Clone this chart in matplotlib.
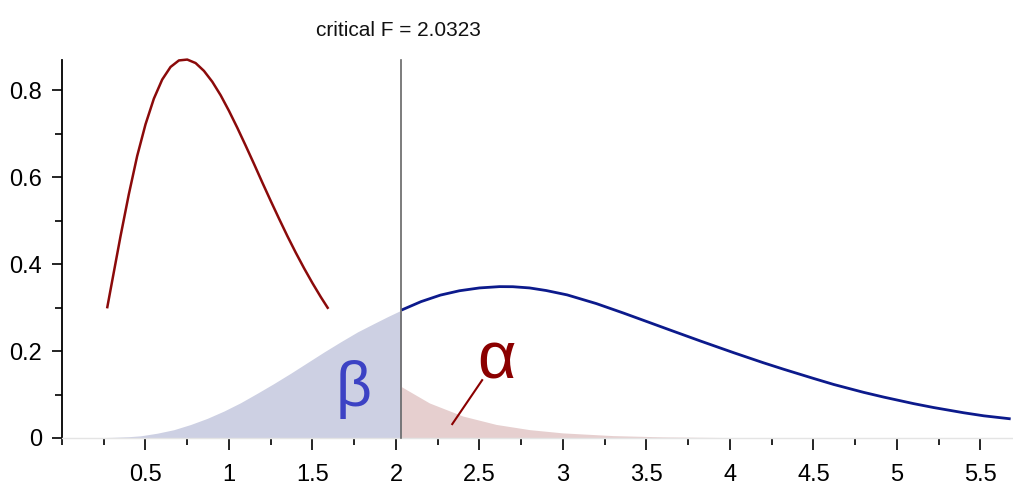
import matplotlib
matplotlib.use("Agg")
import matplotlib.pyplot as plt
from matplotlib.ticker import MultipleLocator, FixedLocator

# ---- data ----
critical_f = 2.0323
title_text = "critical F = 2.0323"

# visible part of the null (central F) density curve
red_x = [0.27, 0.30, 0.35, 0.40, 0.45, 0.50, 0.55, 0.60, 0.65, 0.70, 0.75, 0.80,
         0.85, 0.90, 0.95, 1.00, 1.05, 1.10, 1.15, 1.20, 1.25, 1.30, 1.35, 1.40,
         1.45, 1.50, 1.55, 1.595]
red_y = [0.298, 0.360, 0.463, 0.560, 0.648, 0.721, 0.780, 0.824, 0.853, 0.868, 0.870, 0.862,
         0.844, 0.819, 0.788, 0.752, 0.713, 0.672, 0.630, 0.587, 0.545, 0.504, 0.464, 0.426,
         0.390, 0.356, 0.324, 0.297]

# alternative (noncentral F) density curve beyond the critical value
blue_x = [2.0323, 2.15, 2.266, 2.38, 2.50, 2.62, 2.70, 2.80, 2.90, 3.025, 3.20, 3.364,
          3.50, 3.65, 3.823, 4.023, 4.20, 4.322, 4.50, 4.622, 4.80, 4.921, 5.10, 5.22,
          5.40, 5.52, 5.681]
blue_y = [0.294, 0.3135, 0.3285, 0.3385, 0.345, 0.348, 0.3478, 0.345, 0.339, 0.329, 0.309, 0.287,
          0.268, 0.247, 0.223, 0.196, 0.173, 0.158, 0.137, 0.123, 0.105, 0.094, 0.079, 0.070,
          0.058, 0.051, 0.044]

# beta region (alternative density below the critical value)
beta_x = [0.0, 0.10, 0.20, 0.30, 0.40, 0.47, 0.57, 0.669, 0.77, 0.869, 0.97, 1.069,
          1.17, 1.268, 1.37, 1.468, 1.57, 1.668, 1.77, 1.867, 1.95, 2.0323]
beta_y = [0.0, 0.0001, 0.0005, 0.0015, 0.003, 0.005, 0.011, 0.019, 0.031, 0.045, 0.062, 0.081,
          0.103, 0.125, 0.149, 0.173, 0.198, 0.221, 0.244, 0.263, 0.279, 0.294]

# alpha region (null density above the critical value)
alpha_x = [2.0323, 2.20, 2.40, 2.60, 2.80, 3.00, 3.30, 3.60, 4.00, 4.50, 5.00, 5.695]
alpha_y = [0.118, 0.0806, 0.0505, 0.0312, 0.0192, 0.0117, 0.0055, 0.0026, 0.00095, 0.00027,
           0.00007, 0.00001]

x_major = [0.5, 1, 1.5, 2, 2.5, 3, 3.5, 4, 4.5, 5, 5.5]
x_labels = ["0.5", "1", "1.5", "2", "2.5", "3", "3.5", "4", "4.5", "5", "5.5"]
y_major = [0, 0.2, 0.4, 0.6, 0.8]
y_labels = ["0", "0.2", "0.4", "0.6", "0.8"]

# ---- styling ----
plt.rcParams['font.family'] = ['Liberation Sans', 'DejaVu Sans']

W, H = 1013, 497
fig = plt.figure(figsize=(W / 100, H / 100), dpi=100)
ax = fig.add_axes([62 / W, 1 - 438 / H, (W - 62) / W, (438 - 60) / H])
ax.set_xlim(0, 5.695)
ax.set_ylim(0, 0.869)

blue_fill = "#cdd0e3"
red_fill = "#e6cfcf"
red_line = "#8b0a0a"
blue_line = "#0c1a8c"

ax.fill_between(beta_x, 0, beta_y, color=blue_fill, lw=0, zorder=1)
ax.fill_between(alpha_x, 0, alpha_y, color=red_fill, lw=0, zorder=1)

ax.plot(red_x, red_y, color=red_line, lw=1.8, clip_on=False, zorder=3,
        solid_capstyle='butt', solid_joinstyle='round')
ax.plot(blue_x, blue_y, color=blue_line, lw=2.0, zorder=3, solid_capstyle='butt',
        solid_joinstyle='round')

ax.plot([critical_f, critical_f], [0, 0.869], color="#666666", lw=1.2,
        clip_on=False, zorder=4)

ax.text(critical_f - 0.02, 1.0 + 30 / 378, title_text, transform=ax.get_xaxis_transform(),
        ha='center', va='center', fontsize=15, color='#111111')

ax.text(1.746, 0.112, "β", color="#3c42c4", fontsize=45, ha='center', va='center')
ax.text(2.602, 0.175, "α", color="#8b0000", fontsize=48, ha='center', va='center')
ax.plot([2.337, 2.516], [0.032, 0.133], color="#8b0000", lw=1.5, zorder=3)

for s in ['top', 'right']:
    ax.spines[s].set_visible(False)
ax.spines['left'].set_linewidth(1.3)
ax.spines['bottom'].set_color('#e4e4e4')
ax.spines['bottom'].set_linewidth(1.0)

ax.xaxis.set_major_locator(FixedLocator(x_major))
ax.set_xticklabels(x_labels)
ax.xaxis.set_minor_locator(MultipleLocator(0.25))
ax.yaxis.set_major_locator(FixedLocator(y_major))
ax.set_yticklabels(y_labels)
ax.yaxis.set_minor_locator(MultipleLocator(0.1))

ax.tick_params(axis='x', which='major', length=8.6, width=1.2, pad=10,
               labelsize=17, direction='out', color='black')
ax.tick_params(axis='x', which='minor', length=5, width=1.2, direction='out', color='black')
ax.tick_params(axis='y', which='major', length=7.2, width=1.2, pad=7,
               labelsize=17, direction='out')
ax.tick_params(axis='y', which='minor', length=4.8, width=1.2, direction='out')

fig.savefig("out.png", dpi=100)
